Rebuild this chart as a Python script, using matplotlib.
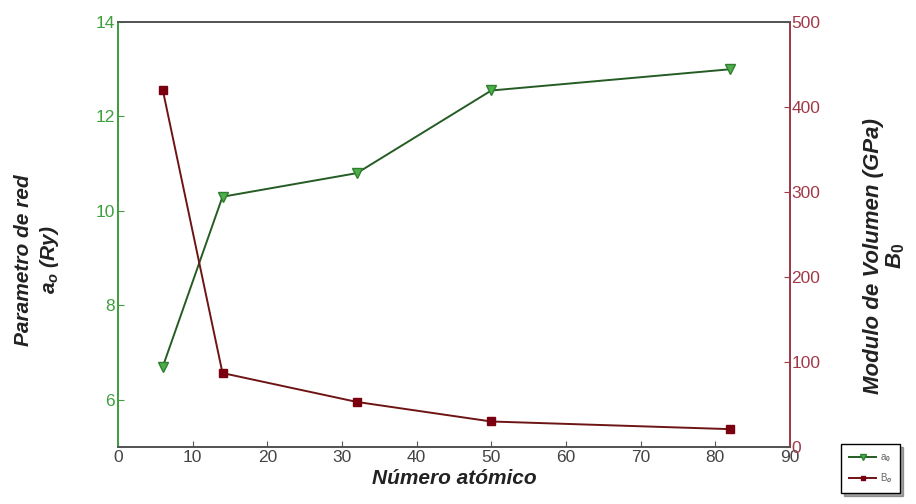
import matplotlib
matplotlib.use("Agg")
import matplotlib.pyplot as plt
from matplotlib import font_manager

# Atomic number of the group IV elements (C, Si, Ge, Sn, Pb)
z_numbers = [6, 14, 32, 50, 82]
# Lattice parameter a0 (Ry) - left axis
lattice_a0 = [6.7, 10.3, 10.8, 12.55, 13.0]
# Bulk modulus B0 (GPa) - right axis
bulk_b0 = [420, 87, 53, 30, 21]

x_ticks = [0, 10, 20, 30, 40, 50, 60, 70, 80, 90]
left_ticks = [6, 8, 10, 12, 14]
right_ticks = [0, 100, 200, 300, 400, 500]

names = {f.name for f in font_manager.fontManager.ttflist}
TICK_FONT = "Liberation Sans Narrow" if "Liberation Sans Narrow" in names else "Liberation Sans"
plt.rcParams["font.family"] = ["Liberation Sans", "DejaVu Sans"]
plt.rcParams["mathtext.fontset"] = "custom"
plt.rcParams["mathtext.it"] = "Liberation Sans:italic:bold"
plt.rcParams["mathtext.rm"] = "Liberation Sans:bold"

GREEN = "#3f9f3f"
GREEN_LINE = "#245c24"
RED = "#6e1414"
RED_AXIS = "#a03a48"

fig = plt.figure(figsize=(9.16, 5.04), dpi=100)
ax = fig.add_axes([0.1288, 0.1131, 0.7336, 0.8432])
ax2 = ax.twinx()

l1, = ax.plot(z_numbers, lattice_a0, color=GREEN_LINE, linewidth=1.4,
              marker="v", markersize=7, markerfacecolor="#4caf4c",
              markeredgecolor="#2f7f2f", markeredgewidth=1.0, label="a$_0$",
              zorder=3)
l2, = ax2.plot(z_numbers, bulk_b0, color=RED, linewidth=1.4,
               marker="s", markersize=5.5, markerfacecolor="#7a0010",
               markeredgecolor="#7a0010", label="B$_o$", zorder=3)

ax.set_xlim(0, 90)
ax.set_ylim(5, 14)
ax2.set_ylim(0, 500)
ax.set_xticks(x_ticks)
ax.set_yticks(left_ticks)
ax2.set_yticks(right_ticks)

for a in (ax, ax2):
    a.spines["top"].set_color("#555555")
    a.spines["bottom"].set_color("#555555")
    a.spines["left"].set_color(GREEN)
    a.spines["right"].set_color(RED_AXIS)
    for s in a.spines.values():
        s.set_linewidth(1.3)

ax.tick_params(axis="x", colors="#555555", labelcolor="#444444",
               labelsize=12.5, direction="in", length=4, pad=2)
ax.tick_params(axis="y", colors=GREEN, labelcolor=GREEN, labelsize=12.5,
               direction="in", length=4, pad=2)
ax2.tick_params(axis="y", colors=RED_AXIS, labelcolor=RED_AXIS,
                labelsize=12.5, direction="in", length=4, pad=1)
for lbl in ax.get_xticklabels() + ax.get_yticklabels() + ax2.get_yticklabels():
    lbl.set_family(TICK_FONT)

lab = dict(fontweight="bold", fontstyle="italic", color="#222222")
ax.set_xlabel("Número atómico", fontsize=15, labelpad=3, **lab)
ax.set_ylabel("Parametro de red\n$a_o$ (Ry)", fontsize=15,
              linespacing=1.3, **lab)
ax.yaxis.set_label_coords(-0.085, 0.44)
ax2.set_ylabel("Modulo de Volumen (GPa)\n$B_0$", fontsize=16,
               linespacing=1.05, **lab)
ax2.yaxis.set_label_coords(1.108, 0.45)

leg = fig.legend(handles=[l1, l2], loc="lower left",
                 bbox_to_anchor=(0.913, 0.012), fontsize=7,
                 frameon=True, shadow=True, fancybox=False,
                 handlelength=2.8, markerscale=0.6, borderpad=0.8,
                 labelspacing=0.8, handletextpad=0.4)
leg.get_frame().set_edgecolor("black")
leg.get_frame().set_linewidth(1.0)
for t in leg.get_texts():
    t.set_color("#666666")

fig.savefig("out.png", dpi=100)
